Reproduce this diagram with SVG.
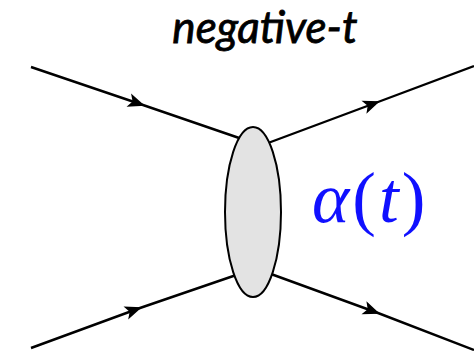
<svg xmlns="http://www.w3.org/2000/svg" width="474" height="351" viewBox="0 0 474 351">
<defs>
<marker id="arr" markerUnits="userSpaceOnUse" markerWidth="20" markerHeight="16" refX="0" refY="0" viewBox="-16 -8 20 16" orient="auto" overflow="visible">
<path d="M2,0 L-15,-7 L-11,0 L-15,7 Z" fill="#000"/>
</marker>
</defs>
<g id="connectors" fill="none" stroke="#000" stroke-width="2.4" marker-mid="url(#arr)">
<path d="M31,67 L143,105 L245,140"/>
<path d="M31,348 L140,308 L245,272"/>
<path d="M260,146 L378,102 L474,66"/>
<path d="M260,270 L378,313 L474,350"/>
</g>
<g id="blob">
<ellipse cx="253" cy="212" rx="28" ry="85" fill="#e3e3e3" stroke="#000" stroke-width="2"/>
</g>
<g id="title">
<text x="265" y="43" text-anchor="middle" font-family="Lato, 'Open Sans', sans-serif" font-style="italic" font-size="44" fill="#000" stroke="#000" stroke-width="0.8">negative-t</text>
</g>
<g id="label">
<text x="312" y="222" font-family="'Liberation Serif', 'DejaVu Serif', serif" font-size="71" letter-spacing="3" fill="#1010ff"><tspan font-style="italic">α</tspan>(<tspan font-style="italic">t</tspan>)</text>
</g>
</svg>
